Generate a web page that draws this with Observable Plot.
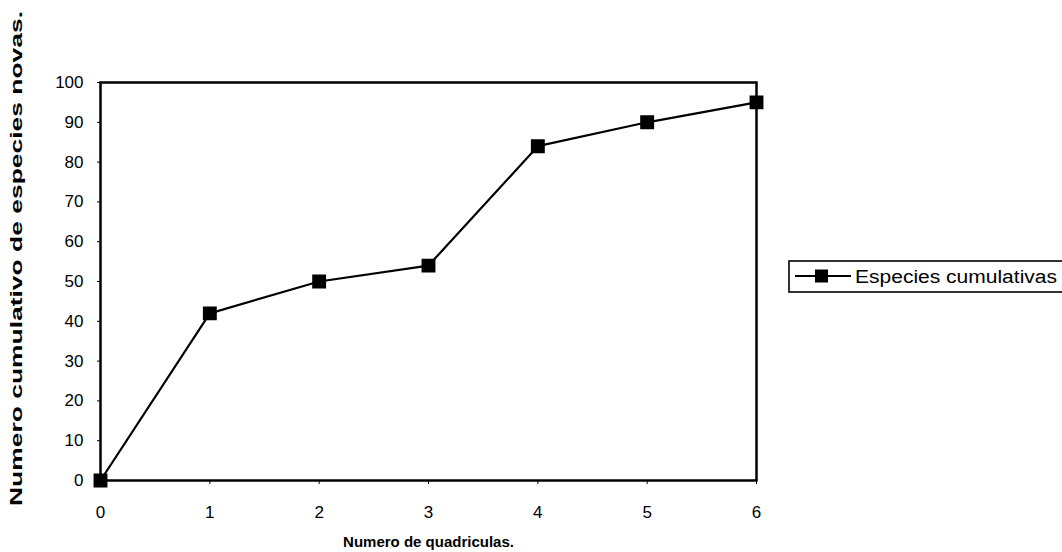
<!DOCTYPE html>
<html>
<head>
<meta charset="utf-8">
<script src="https://cdn.jsdelivr.net/npm/d3@7"></script>
<script src="https://cdn.jsdelivr.net/npm/@observablehq/plot@0.6"></script>
<style>
  html, body { margin: 0; padding: 0; background: #fff; }
  #wrap { position: relative; width: 1062px; height: 552px; font-family: "Liberation Sans", Arial, sans-serif; }
  #legend { position: absolute; left: 788px; top: 260px; }
</style>
</head>
<body>
<div id="wrap"></div>
<script>
// Cumulative count of new species by number of sampled quadrats
const quadrats = [0, 1, 2, 3, 4, 5, 6];
const cumulativeSpecies = [0, 42, 50, 54, 84, 90, 95];
const yTicks = [0, 10, 20, 30, 40, 50, 60, 70, 80, 90, 100];
const seriesName = "Especies cumulativas";
const xTitle = "Numero de quadriculas.";
const yTitle = "Numero cumulativo de especies novas.";

const rows = quadrats.map((q, i) => ({q, n: cumulativeSpecies[i]}));

const chart = Plot.plot({
  width: 1062,
  height: 552,
  marginLeft: 100,
  marginRight: 306,
  marginTop: 82,
  marginBottom: 72,
  style: {fontFamily: "'Liberation Sans', Arial, sans-serif", fontSize: "17px", color: "#000", background: "#fff"},
  x: {domain: [0, 6]},
  y: {domain: [0, 100]},
  marks: [
    Plot.frame({stroke: "#000", strokeWidth: 2.5}),
    Plot.axisX({ticks: quadrats, tickSize: 4, tickPadding: 21, tickFormat: d => String(d),
      label: xTitle, labelAnchor: "center", labelArrow: "none", labelOffset: 66,
      fontSize: 17}),
    Plot.axisY({ticks: yTicks, tickSize: 3, tickPadding: 14, tickFormat: d => String(d),
      label: yTitle, labelAnchor: "center", labelArrow: "none", labelOffset: 91,
      fontSize: 17}),
    Plot.line(rows, {x: "q", y: "n", stroke: "#000", strokeWidth: 2.2}),
    Plot.dot(rows, {x: "q", y: "n", symbol: "square", r: 7, fill: "#000", stroke: "#000"})
  ]
});

// Bold axis titles; the vertical one is stretched along its length
const xLab = chart.querySelector("[aria-label='x-axis label'] text");
if (xLab) { xLab.setAttribute("font-weight", "bold"); xLab.setAttribute("font-size", "15px"); }
const yLab = chart.querySelector("[aria-label='y-axis label'] text");
if (yLab) {
  yLab.setAttribute("font-weight", "bold");
  yLab.setAttribute("font-size", "17px");
  yLab.setAttribute("textLength", "495");
  yLab.setAttribute("lengthAdjust", "spacingAndGlyphs");
  yLab.setAttribute("dx", "23");
}

const wrap = document.getElementById("wrap");
wrap.appendChild(chart);

// Legend box to the right of the plot
const legend = d3.select(wrap).append("svg").attr("id", "legend")
  .attr("width", 280).attr("height", 36)
  .style("font-family", "'Liberation Sans', Arial, sans-serif");
legend.append("rect").attr("x", 1).attr("y", 1).attr("width", 290).attr("height", 31)
  .attr("fill", "#fff").attr("stroke", "#000").attr("stroke-width", 1.6);
legend.append("line").attr("x1", 7).attr("y1", 16).attr("x2", 63).attr("y2", 16)
  .attr("stroke", "#000").attr("stroke-width", 2.2);
legend.append("rect").attr("x", 27).attr("y", 9.5).attr("width", 13).attr("height", 13).attr("fill", "#000");
legend.append("text").attr("x", 67).attr("y", 22.5).attr("font-size", 18)
  .attr("textLength", 202).attr("lengthAdjust", "spacingAndGlyphs").text(seriesName);
</script>
</body>
</html>
